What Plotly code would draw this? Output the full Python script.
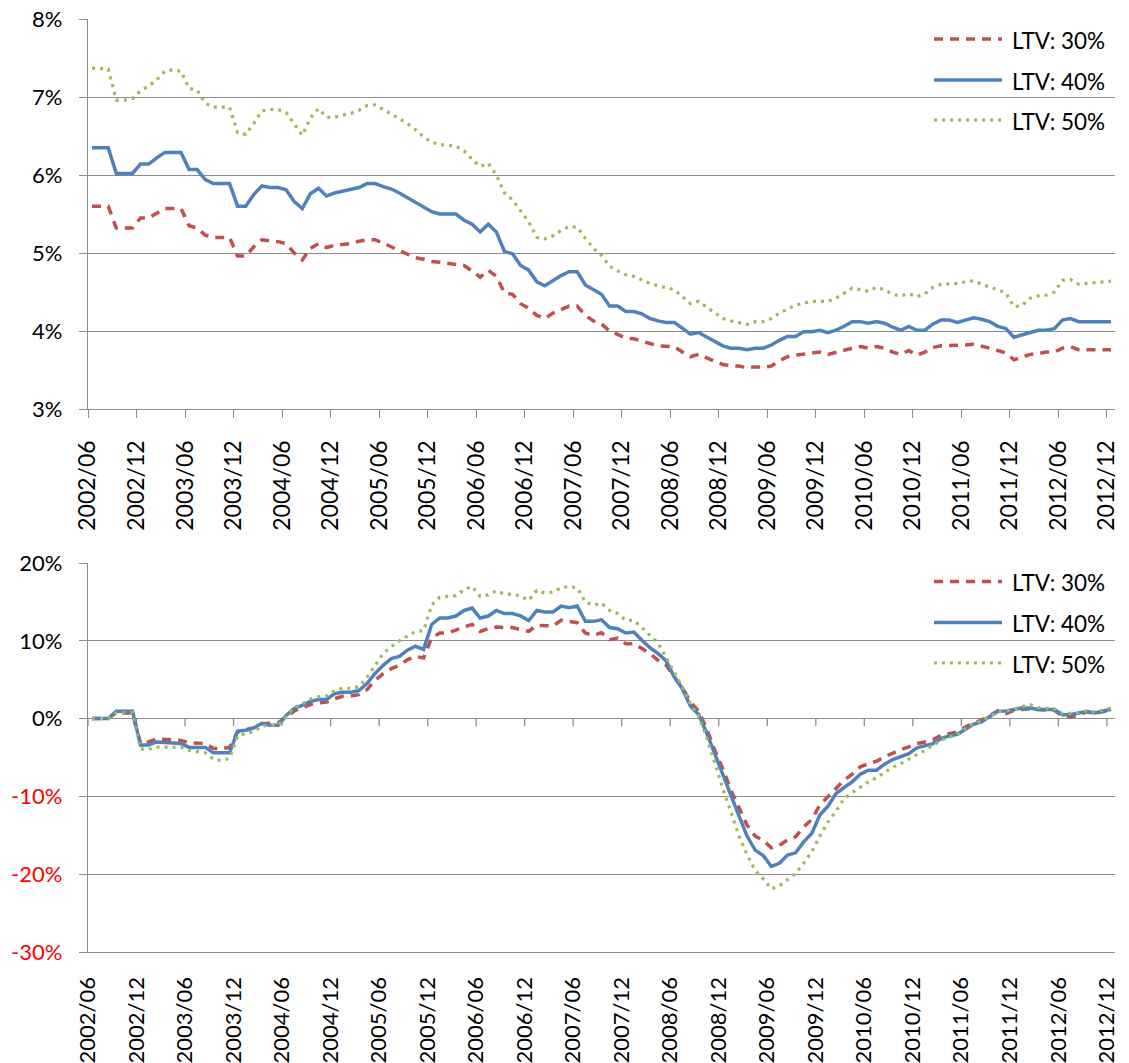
import plotly.graph_objects as go

# ---------------- data ----------------
months = []
for y in range(2002, 2013):
    for m in range(1, 13):
        if (y == 2002 and m < 6):
            continue
        months.append(f"{y}/{m:02d}")

tick_labels = ["2002/06", "2002/12", "2003/06", "2003/12", "2004/06", "2004/12",
               "2005/06", "2005/12", "2006/06", "2006/12", "2007/06", "2007/12",
               "2008/06", "2008/12", "2009/06", "2009/12", "2010/06", "2010/12",
               "2011/06", "2011/12", "2012/06", "2012/12"]

series_names = ["LTV: 30%", "LTV: 40%", "LTV: 50%"]

# top panel (level, %)
top_ltv30 = [5.60, 5.60, 5.60, 5.32, 5.32, 5.32, 5.45, 5.45, 5.51, 5.57, 5.57, 5.57, 5.35, 5.32, 5.23,
             5.20, 5.20, 5.20, 4.96, 4.96, 5.08, 5.17, 5.155, 5.146, 5.12, 5.00, 4.91, 5.06, 5.12, 5.07,
             5.10, 5.11, 5.12, 5.15, 5.17, 5.17, 5.13, 5.08, 5.03, 4.98, 4.94, 4.92, 4.89,
             4.88, 4.87, 4.86, 4.84, 4.77, 4.69, 4.78, 4.70, 4.49, 4.47, 4.35, 4.29, 4.20, 4.16, 4.23,
             4.28, 4.32, 4.32, 4.20, 4.13, 4.09, 4.00, 3.96, 3.91, 3.90, 3.875, 3.84, 3.81, 3.81, 3.80,
             3.73, 3.67, 3.70, 3.66, 3.61, 3.57, 3.555, 3.55, 3.53, 3.54, 3.535, 3.55,
             3.62, 3.67, 3.69, 3.70, 3.71, 3.73, 3.70, 3.73, 3.75, 3.78, 3.80, 3.78, 3.80, 3.78, 3.73,
             3.70, 3.75, 3.69, 3.73, 3.79, 3.81, 3.81, 3.81, 3.82, 3.83, 3.81, 3.78, 3.75, 3.72, 3.63,
             3.66, 3.70, 3.71, 3.73, 3.73, 3.78, 3.80, 3.76, 3.76, 3.76, 3.76, 3.76]
top_ltv40 = [6.35, 6.35, 6.35, 6.02, 6.02, 6.02, 6.14, 6.14, 6.22, 6.29, 6.29, 6.29, 6.07, 6.07, 5.94,
             5.89, 5.89, 5.89, 5.60, 5.60, 5.75, 5.86, 5.84, 5.84, 5.81, 5.66, 5.57, 5.76, 5.83, 5.73,
             5.77, 5.79, 5.82, 5.84, 5.89, 5.89, 5.85, 5.82, 5.77, 5.71, 5.64, 5.58, 5.53,
             5.50, 5.50, 5.50, 5.42, 5.37, 5.27, 5.37, 5.27, 5.02, 4.99, 4.84, 4.78, 4.63, 4.58, 4.65,
             4.71, 4.76, 4.76, 4.59, 4.53, 4.47, 4.32, 4.32, 4.25, 4.25, 4.22, 4.16, 4.13, 4.11, 4.11,
             4.03, 3.96, 3.98, 3.92, 3.86, 3.81, 3.78, 3.78, 3.76, 3.78, 3.78, 3.82,
             3.88, 3.93, 3.93, 3.99, 3.99, 4.01, 3.98, 4.01, 4.06, 4.12, 4.12, 4.10, 4.12, 4.10, 4.05,
             4.01, 4.06, 4.01, 4.01, 4.09, 4.14, 4.14, 4.11, 4.14, 4.17, 4.15, 4.12, 4.06, 4.03, 3.92,
             3.95, 3.99, 4.01, 4.01, 4.03, 4.14, 4.16, 4.12, 4.12, 4.12, 4.12, 4.12]
top_ltv50 = [7.37, 7.37, 7.36, 6.96, 6.96, 6.98, 7.08, 7.14, 7.22, 7.33, 7.35, 7.33, 7.11, 7.09, 6.92,
             6.87, 6.87, 6.87, 6.54, 6.52, 6.66, 6.82, 6.84, 6.84, 6.80, 6.66, 6.51, 6.73, 6.85, 6.74,
             6.74, 6.77, 6.79, 6.83, 6.89, 6.90, 6.84, 6.78, 6.73, 6.66, 6.58, 6.49, 6.42,
             6.39, 6.38, 6.37, 6.31, 6.20, 6.11, 6.15, 6.00, 5.77, 5.68, 5.54, 5.40, 5.20, 5.18, 5.22,
             5.29, 5.34, 5.33, 5.19, 5.06, 4.97, 4.83, 4.77, 4.72, 4.70, 4.65, 4.61, 4.58, 4.56, 4.53,
             4.44, 4.35, 4.38, 4.31, 4.23, 4.16, 4.13, 4.11, 4.085, 4.12, 4.12, 4.16,
             4.23, 4.28, 4.33, 4.36, 4.38, 4.38, 4.38, 4.42, 4.48, 4.55, 4.53, 4.51, 4.56, 4.53, 4.47,
             4.45, 4.48, 4.44, 4.48, 4.56, 4.60, 4.60, 4.61, 4.63, 4.645, 4.60, 4.57, 4.53, 4.49, 4.31,
             4.33, 4.42, 4.45, 4.46, 4.50, 4.65, 4.66, 4.60, 4.61, 4.62, 4.63, 4.64]

# bottom panel (change, %)
bot_ltv30 = [0, 0, 0, 0.75, 0.7, 0.7, -3.2, -3.0, -2.6, -2.65, -2.7, -2.8, -3.1, -3.1, -3.2,
             -3.85, -3.85, -3.7, -1.7, -1.4, -1.2, -0.65, -0.65, -0.55, 0.2, 0.98, 1.4, 1.8, 2.0, 2.14,
             2.57, 2.87, 2.9, 3.08, 3.72, 4.92, 5.78, 6.42, 6.85, 7.58, 8.0, 7.8, 10.4,
             11.0, 11.0, 11.43, 11.77, 12.1, 11.2, 11.56, 11.77, 11.7, 11.7, 11.43, 11.2, 12.0, 11.9, 11.9,
             12.63, 12.5, 12.33, 11.0, 10.7, 11.04, 10.15, 10.36, 9.63, 9.63, 9.0, 8.35, 7.49, 6.85, 5.35,
             3.98, 2.14, 0.98, -1.28, -4.07, -6.42, -9.2, -11.43, -13.7, -15.1, -15.65, -16.6,
             -16.3, -15.6, -15.2, -13.9, -12.97, -11.1, -10.06, -8.9, -7.9, -7.15, -6.2, -5.78, -5.48,
             -4.92, -4.4, -3.98, -3.64, -3.2, -3.0, -2.7, -2.14, -1.93, -1.71, -1.07, -0.56, -0.21, 0.43,
             0.98, 0.64, 1.07, 1.16, 1.28, 1.16, 1.07, 1.07, 0.34, 0.21, 0.43, 0.86, 0.64, 0.86, 1.16]
bot_ltv40 = [0, 0, 0, 0.95, 0.95, 0.95, -3.4, -3.4, -3.0, -3.1, -3.1, -3.2, -3.7, -3.7, -3.7,
             -4.4, -4.4, -4.4, -1.6, -1.5, -1.2, -0.6, -0.85, -0.85, 0.4, 1.3, 1.7, 2.2, 2.45, 2.45,
             3.2, 3.4, 3.4, 3.6, 4.5, 5.8, 6.85, 7.7, 8.0, 8.8, 9.3, 8.9, 12.1,
             12.93, 12.93, 13.18, 13.9, 14.2, 12.93, 13.18, 13.9, 13.5, 13.5, 13.2, 12.6, 13.9, 13.7, 13.7,
             14.47, 14.25, 14.47, 12.5, 12.5, 12.7, 11.7, 11.56, 11.0, 11.13, 10.06, 9.12, 8.35, 7.41, 5.35,
             3.85, 1.58, 0.56, -1.84, -4.58, -7.06, -9.85, -12.5, -15.1, -16.9, -17.6, -19.0,
             -18.6, -17.55, -17.25, -15.84, -14.77, -12.4, -11.26, -9.63, -8.86, -8.13, -7.15, -6.64, -6.64,
             -5.86, -5.27, -4.84, -4.5, -3.77, -3.51, -3.21, -2.57, -2.23, -2.01, -1.41, -0.73, -0.43, 0.21,
             0.94, 0.98, 1.16, 1.37, 1.37, 1.16, 1.16, 1.16, 0.51, 0.51, 0.73, 0.9, 0.73, 0.98, 1.2]
bot_ltv50 = [0, 0, 0, 0.77, 0.77, 0.77, -3.9, -3.95, -3.65, -3.7, -3.7, -3.7, -4.1, -4.2, -4.4,
             -5.2, -5.4, -5.1, -2.3, -1.85, -1.7, -0.95, -0.95, -0.85, 0.3, 1.4, 1.9, 2.5, 2.8, 2.9,
             3.6, 3.9, 3.9, 4.1, 5.3, 6.85, 8.35, 9.25, 10.0, 10.6, 11.2, 11.3, 14.6,
             15.6, 15.7, 15.8, 16.56, 17.0, 15.7, 15.9, 16.44, 16.0, 15.97, 15.75, 15.2, 16.48, 16.14, 16.27,
             16.8, 17.0, 16.8, 15.0, 14.55, 14.85, 13.9, 13.5, 12.63, 12.63, 11.7, 10.7, 9.7, 7.83, 6.0,
             4.07, 1.84, 0.34, -2.35, -5.78, -9.0, -12.0, -15.1, -17.5, -19.5, -20.6, -21.9,
             -21.5, -20.7, -19.9, -18.6, -17.1, -15.1, -13.3, -11.9, -10.3, -9.5, -8.8, -8.13, -7.6,
             -6.93, -6.25, -5.78, -5.2, -4.7, -4.07, -3.42, -2.78, -2.35, -2.14, -1.28, -0.64, -0.34, 0.21,
             0.86, 0.98, 1.28, 1.5, 1.8, 1.41, 1.28, 1.24, 0.64, 0.64, 0.73, 0.98, 0.86, 1.07, 1.37]

top_ticks = [3, 4, 5, 6, 7, 8]
bot_ticks = [-30, -20, -10, 0, 10, 20]

# ---------------- style ----------------
FONT = "Lato, 'Open Sans', Arial, sans-serif"
GRID = "#8c8c8c"
COLORS = ["#C0504D", "#4F81BD", "#9BBB59"]
LINES = [dict(color=COLORS[0], width=3.5, dash="9px,7px"),
         dict(color=COLORS[1], width=3.5),
         dict(color=COLORS[2], width=3.2, dash="3px,5px")]

idx = list(range(len(months)))
tickvals = [6 * k - 0.5 for k in range(len(tick_labels))]

fig = go.Figure()
for name, ys, ln in zip(series_names, [top_ltv30, top_ltv40, top_ltv50], LINES):
    fig.add_trace(go.Scatter(x=idx, y=ys, mode="lines", name=name, line=ln,
                             xaxis="x", yaxis="y", showlegend=False,
                             customdata=months, hovertemplate="%{customdata}: %{y:.2f}%<extra>" + name + "</extra>"))
for name, ys, ln in zip(series_names, [bot_ltv30, bot_ltv40, bot_ltv50], LINES):
    fig.add_trace(go.Scatter(x=idx, y=ys, mode="lines", name=name, line=ln,
                             xaxis="x2", yaxis="y2", showlegend=False,
                             customdata=months, hovertemplate="%{customdata}: %{y:.1f}%<extra>" + name + "</extra>"))

W, H = 1129, 1063
ML, MR, MT, MB = 88, 14, 19, 111
plot_h = H - MT - MB
top_dom = [(plot_h - (409 - MT)) / plot_h, 1.0]
bot_dom = [0.0, (plot_h - (563 - MT)) / plot_h]

common_x = dict(range=[-0.5, len(months) - 0.5], tickvals=tickvals, ticktext=tick_labels,
                tickangle=-90, showgrid=False, zeroline=False, automargin=False,
                showline=True, linecolor=GRID, linewidth=1.3)
common_y = dict(ticks="outside", ticklen=8, tickcolor=GRID, tickwidth=1.3,
                showgrid=True, gridcolor=GRID, gridwidth=1.3, automargin=False,
                showline=True, linecolor=GRID, linewidth=1.3, ticklabelstandoff=12,
                tickfont=dict(family=FONT, size=22, color="black"))
fig.update_layout(
    width=W, height=H,
    margin=dict(l=ML, r=MR, t=MT, b=MB, autoexpand=False),
    paper_bgcolor="white", plot_bgcolor="white",
    font=dict(family=FONT, color="black"),
    xaxis=dict(domain=[0, 1], anchor="y", ticks="outside", ticklen=8, tickcolor=GRID,
               tickwidth=1.3, ticklabelstandoff=13,
               tickfont=dict(family=FONT, size=23, color="black"), **common_x),
    xaxis2=dict(domain=[0, 1], anchor="y2", ticks="", ticklabelstandoff=15,
                tickfont=dict(family=FONT, size=22, color="black"), **common_x),
    yaxis=dict(domain=top_dom, anchor="x", range=[3, 8], tickvals=top_ticks,
               ticktext=[f"{v}%" for v in top_ticks], zeroline=False, **common_y),
    yaxis2=dict(domain=bot_dom, anchor="x2", range=[-30, 20], tickvals=bot_ticks,
                ticktext=[(f'<span style="color:#FF0000">{v}%</span>' if v < 0 else f"{v}%") for v in bot_ticks],
                zeroline=True, zerolinecolor=GRID, zerolinewidth=1.3, **common_y),
)

# tick marks on the zero line of the lower panel (category axis crosses at 0)
shapes = []
for t in tickvals:
    shapes.append(dict(type="line", xref="x2", yref="y2", x0=t, x1=t, y0=0, y1=-0.95,
                       line=dict(color=GRID, width=1.3), layer="below"))

# legends drawn in each panel (top-right)
def px_to_paper_x(px):
    return (px - ML) / (W - ML - MR)

def px_to_paper_y(py):
    return (H - MB - py) / plot_h

annotations = []
for rows in ([39, 80, 120], [581.5, 622.5, 663]):
    for name, ln, py in zip(series_names, LINES, rows):
        shapes.append(dict(type="line", xref="paper", yref="paper",
                           x0=px_to_paper_x(934), x1=px_to_paper_x(1002),
                           y0=px_to_paper_y(py), y1=px_to_paper_y(py),
                           line=ln, layer="above"))
        annotations.append(dict(xref="paper", yref="paper", x=px_to_paper_x(1010),
                                y=px_to_paper_y(py + 1), text=name, showarrow=False,
                                xanchor="left", yanchor="middle",
                                font=dict(family=FONT, size=22.5, color="black")))

fig.update_layout(shapes=shapes, annotations=annotations)
fig.write_html("out.html", config={"displayModeBar": False},
               post_script="document.body.style.margin='0px';document.body.style.overflow='hidden';")
